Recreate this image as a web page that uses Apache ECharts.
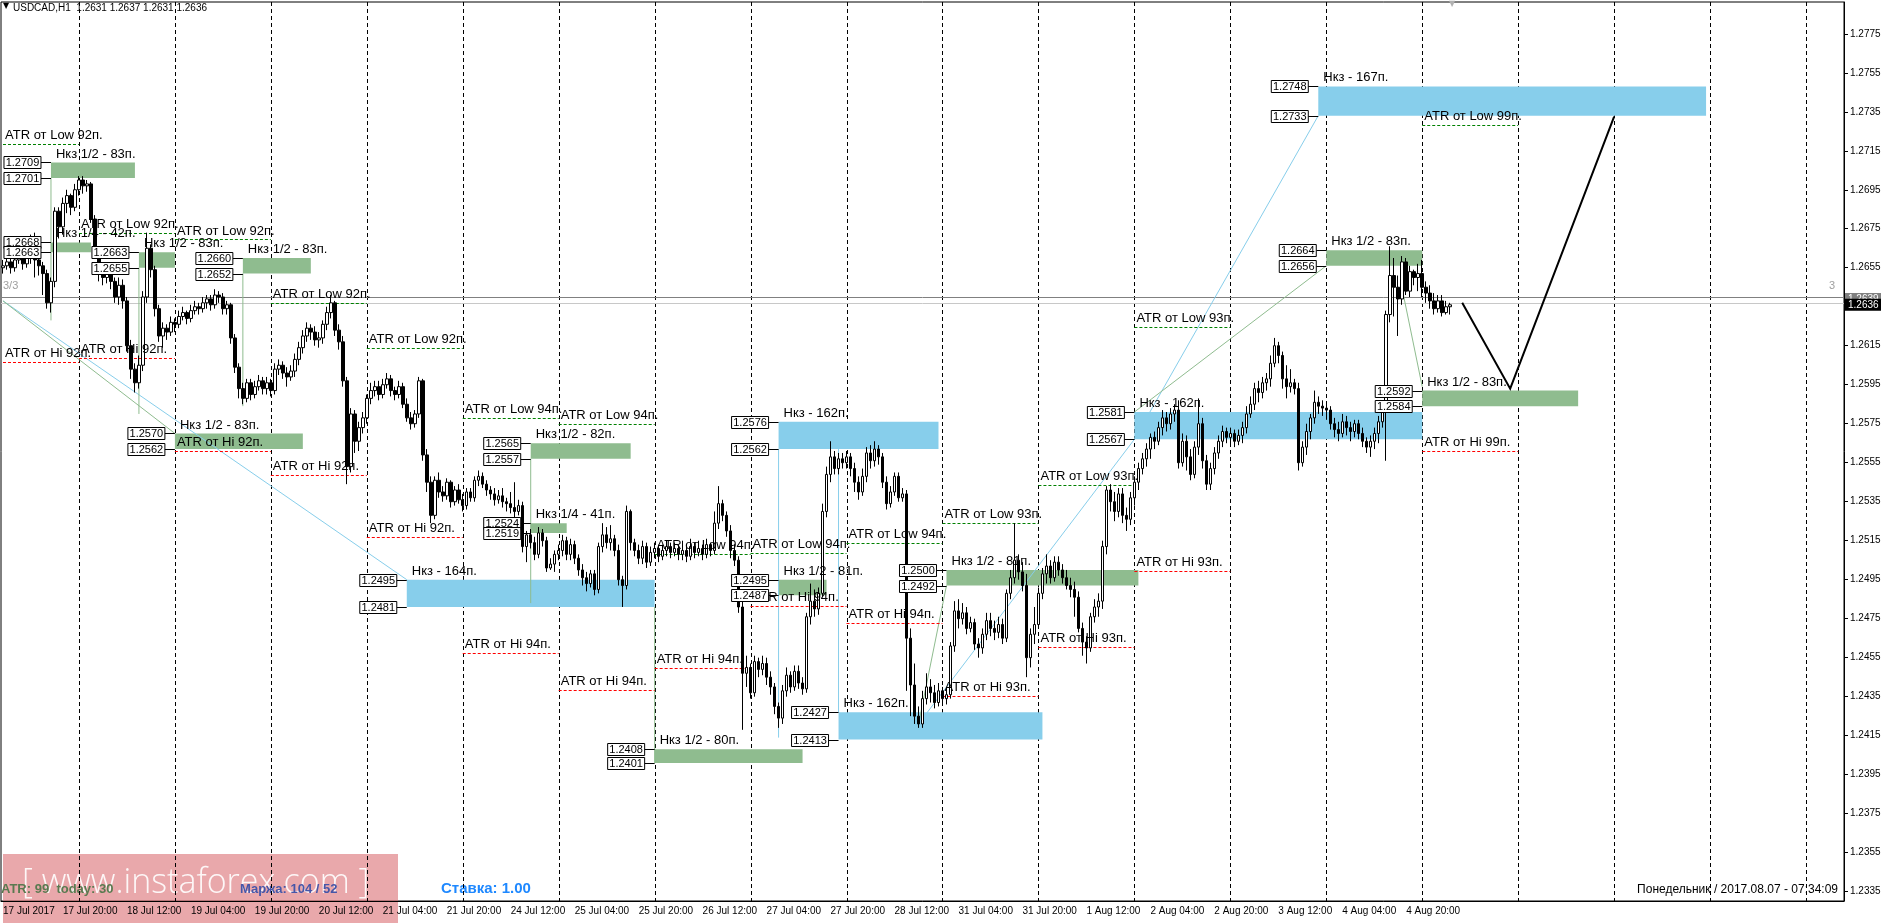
<!DOCTYPE html>
<html>
<head>
<meta charset="utf-8">
<script src="https://cdn.jsdelivr.net/npm/echarts@6/dist/echarts.min.js"></script>
<style>
html,body{margin:0;padding:0;background:#fff;}
#main{width:1885px;height:923px;}
</style>
</head>
<body>
<div id="main"></div>
<script>
// H1 bars, pips above 1.2000 (655 -> 1.2655)
var opens = [
655,656,658,655,659,661,657,660,662,659, 656,652,637,648,684,676,688,692,686,695,
700,697,698,680,662,652,650,652,648,640, 646,638,615,603,596,605,640,665,654,634,
620,624,622,627,626,630,632,629,633,635, 634,637,639,636,641,640,634,636,619,604,
593,588,596,590,594,597,593,596,592,603, 605,601,599,602,608,614,620,624,622,618,
619,626,632,637,623,617,597,553,580,566, 573,578,588,592,594,590,595,598,592,590,
594,585,578,575,580,597,559,545,528,546, 540,538,545,535,541,536,533,540,537,546,
548,544,541,539,536,538,535,534,532,530, 533,512,518,514,508,519,515,501,503,508,
510,515,508,513,506,500,496,493,498,490, 512,518,514,516,510,495,492,530,514,510,
506,512,504,509,511,507,510,512,509,511, 508,510,507,512,509,511,508,513,510,524,
534,528,520,510,505,481,447,450,437,453, 449,452,445,440,430,424,438,446,440,448,
442,439,476,484,480,488,530,549,558,552, 557,555,558,552,545,540,548,560,556,562,
558,545,534,540,548,537,539,465,441,425, 421,434,440,437,432,438,434,436,461,479,
475,478,470,473,462,460,467,474,470,468, 472,465,488,496,505,499,492,455,467,472,
488,498,502,496,504,500,496,492,490,486, 470,463,460,476,481,484,512,541,535,530,
539,528,526,537,545,552,557,562,568,566, 573,578,575,580,582,555,566,558,549,563,
575,556,544,552,560,566,571,568,570,566, 569,573,580,585,593,591,596,598,606,615,
610,598,594,596,593,555,563,571,578,586, 584,583,582,575,572,570,576,573,571,575,
570,566,563,566,570,576,581,631,651,645, 639,658,643,653,650,652,645,642,638,634,
638,632,635
];
var closes = [
656,658,655,659,661,657,660,662,659,656, 652,637,648,684,676,688,692,686,695,700,
697,698,680,662,652,650,652,648,640,646, 638,615,603,596,605,640,665,654,634,620,
624,622,627,626,630,632,629,633,635,634, 637,639,636,641,640,634,636,619,604,593,
588,596,590,594,597,593,596,592,603,605, 601,599,602,608,614,620,624,622,618,619,
626,632,637,623,617,597,553,580,566,573, 578,588,592,594,590,595,598,592,590,594,
585,578,575,580,597,559,545,528,546,540, 538,545,535,541,536,533,540,537,546,548,
544,541,539,536,538,535,534,532,530,533, 512,518,514,508,519,515,501,503,508,510,
515,508,513,506,500,496,493,498,490,512, 518,514,516,510,495,492,530,514,510,506,
512,504,509,511,507,510,512,509,511,508, 510,507,512,509,511,508,513,510,524,534,
528,520,510,505,481,447,450,437,453,449, 452,445,440,430,424,438,446,440,448,442,
439,476,484,480,488,530,549,558,552,557, 555,558,552,545,540,548,560,556,562,558,
545,534,540,548,537,539,465,441,425,421, 434,440,437,432,438,434,436,461,479,475,
478,470,473,462,460,467,474,470,468,472, 465,488,496,505,499,492,455,467,472,488,
498,502,496,504,500,496,492,490,486,470, 463,460,476,481,484,512,541,535,530,539,
528,526,537,545,552,557,562,568,566,573, 578,575,580,582,555,566,558,549,563,575,
556,544,552,560,566,571,568,570,566,569, 573,580,585,593,591,596,598,606,615,610,
598,594,596,593,555,563,571,578,586,584, 583,582,575,572,570,576,573,571,575,570,
566,563,566,570,576,581,631,651,645,639, 658,643,653,650,652,645,642,638,634,638,
632,635,636
];
var highs = [
659,661,660,662,664,663,668,672,673,662, 658,654,650,686,686,691,695,693,698,702,
702,700,699,682,665,656,655,654,650,650, 649,640,618,606,610,643,673,667,656,636,
627,626,630,629,633,635,633,636,638,637, 640,641,641,644,643,642,638,637,621,606,
596,598,598,597,600,599,599,598,606,608, 607,604,605,611,617,623,627,626,625,622,
628,635,641,638,626,620,599,583,582,576, 581,590,596,597,597,598,601,600,594,597,
596,588,581,582,599,598,562,548,548,550, 543,547,546,543,544,539,542,542,548,551,
550,546,543,542,541,542,537,540,545,536, 535,520,521,517,522,521,517,506,510,513,
518,517,516,515,508,503,499,500,500,514, 524,522,523,518,513,497,533,531,516,513,
515,514,512,514,513,513,515,514,514,513, 515,512,516,514,515,513,516,514,530,543,
536,530,523,513,507,484,456,452,456,455, 456,455,448,442,432,441,450,448,451,451,
445,478,493,490,491,534,553,566,561,560, 560,561,560,555,548,552,563,564,566,564,
560,548,543,550,550,542,541,470,452,430, 438,447,444,441,442,440,440,463,484,485,
483,481,476,475,465,470,478,478,474,476, 475,490,500,524,508,504,498,470,481,491,
501,508,505,507,507,503,500,496,494,489, 473,466,478,485,488,515,543,544,540,542,
542,532,540,548,555,560,565,570,571,576, 582,581,583,585,587,570,569,562,566,588,
578,559,555,563,569,574,573,573,572,572, 576,584,589,596,597,599,601,610,619,617,
612,605,603,598,596,566,575,580,592,589, 587,586,584,578,576,580,579,576,577,577,
573,568,569,573,579,584,633,666,660,651, 661,660,656,654,657,659,648,646,642,641,
641,638,637
];
var lows = [
652,654,652,653,657,654,655,657,650,651, 641,634,632,645,670,672,683,682,684,692,
693,694,678,660,648,646,647,644,637,636, 634,612,598,591,593,602,637,650,630,617,
614,618,620,622,624,628,626,627,631,631, 632,634,633,634,637,631,631,616,601,588,
585,586,587,588,592,590,590,589,590,600, 598,594,597,599,605,611,617,618,615,614,
616,623,629,620,613,594,544,550,560,561, 570,575,585,589,587,588,593,589,587,588,
583,576,572,573,578,556,540,524,526,537, 535,536,532,533,534,530,531,535,535,543,
542,538,536,533,534,532,530,529,527,528, 509,504,511,505,506,512,499,500,499,505,
507,505,505,503,497,492,489,491,487,488, 509,511,510,507,492,481,490,510,507,503,
503,501,502,506,504,505,507,506,507,505, 505,504,505,506,507,505,506,507,508,521,
525,517,506,502,478,418,440,434,435,445, 446,441,436,426,419,421,435,437,438,439,
436,437,472,476,477,486,527,545,549,549, 552,552,548,540,536,538,545,552,553,554,
542,531,532,538,535,535,438,425,421,419, 419,431,432,429,430,431,431,434,458,470,
472,467,468,459,455,457,464,466,464,465, 462,463,485,493,495,489,445,450,462,470,
485,493,493,494,497,493,490,486,476,468, 456,452,458,473,476,480,508,530,525,527,
524,520,523,533,541,549,553,557,562,564, 569,571,572,576,552,553,551,546,547,559,
552,541,541,549,557,563,565,565,563,564, 565,570,578,582,586,588,592,594,604,606,
593,588,591,590,551,553,559,567,575,580, 579,577,572,568,566,568,569,566,568,567,
563,560,558,562,565,573,556,627,630,620, 636,641,640,646,643,640,637,634,631,632,
630,631,631
];

var yTicks = [1.2335,1.2355,1.2375,1.2395,1.2415,1.2435,1.2455,1.2475,1.2495,1.2515,
  1.2535,1.2555,1.2575,1.2595,1.2615,1.2635,1.2655,1.2675,1.2695,1.2715,1.2735,1.2755,1.2775];

// zones: [fromBar, toBar, top, bottom, colour, label]
var zones = [
  [12,33,1.2709,1.2701,'g','Нкз 1/2 - 83п.'],
  [12,22,1.2668,1.2663,'g','Нкз 1/4 - 42п.'],
  [34,43,1.2663,1.2655,'g','Нкз 1/2 - 83п.'],
  [60,77,1.2660,1.2652,'g','Нкз 1/2 - 83п.'],
  [43,75,1.2570,1.2562,'g','Нкз 1/2 - 83п.'],
  [132,157,1.2565,1.2557,'g','Нкз 1/2 - 82п.'],
  [132,141,1.2524,1.2519,'g','Нкз 1/4 - 41п.'],
  [101,163,1.2495,1.2481,'b','Нкз - 164п.'],
  [194,234,1.2576,1.2562,'b','Нкз - 162п.'],
  [194,206,1.2495,1.2487,'g','Нкз 1/2 - 81п.'],
  [163,200,1.2408,1.2401,'g','Нкз 1/2 - 80п.'],
  [209,260,1.2427,1.2413,'b','Нкз - 162п.'],
  [236,284,1.2500,1.2492,'g','Нкз 1/2 - 81п.'],
  [283,355,1.2581,1.2567,'b','Нкз - 162п.'],
  [331,355,1.2664,1.2656,'g','Нкз 1/2 - 83п.'],
  [355,394,1.2592,1.2584,'g','Нкз 1/2 - 83п.'],
  [329,426,1.2748,1.2733,'b','Нкз - 167п.']
];

// ATR levels: [fromBar, toBar, price, 'L'|'H', text]
var atrLevels = [
  [0,19,1.27185,'L','ATR от Low 92п.'],[0,19,1.26067,'H','ATR от Hi 92п.'],
  [19,43,1.26727,'L','ATR от Low 92п.'],[19,43,1.26086,'H','ATR от Hi 92п.'],
  [43,67,1.26695,'L','ATR от Low 92п.'],[43,67,1.2561,'H','ATR от Hi 92п.'],
  [67,91,1.26368,'L','ATR от Low 92п.'],[67,91,1.25487,'H','ATR от Hi 92п.'],
  [91,115,1.26137,'L','ATR от Low 92п.'],[91,115,1.2517,'H','ATR от Hi 92п.'],
  [115,139,1.25778,'L','ATR от Low 94п.'],[115,139,1.24575,'H','ATR от Hi 94п.'],
  [139,163,1.25747,'L','ATR от Low 94п.'],[139,163,1.24386,'H','ATR от Hi 94п.'],
  [163,187,1.2508,'L','ATR от Low 94п.'],[163,187,1.24498,'H','ATR от Hi 94п.'],
  [187,211,1.25087,'L','ATR от Low 94п.'],[187,211,1.24814,'H','ATR от Hi 94п.'],
  [211,235,1.25138,'L','ATR от Low 94п.'],[211,235,1.24729,'H','ATR от Hi 94п.'],
  [235,259,1.25243,'L','ATR от Low 93п.'],[235,259,1.24353,'H','ATR от Hi 93п.'],
  [259,283,1.25435,'L','ATR от Low 93п.'],[259,283,1.24604,'H','ATR от Hi 93п.'],
  [283,307,1.26245,'L','ATR от Low 93п.'],[283,307,1.24996,'H','ATR от Hi 93п.'],
  [355,379,1.27284,'L','ATR от Low 99п.'],[355,379,1.2561,'H','ATR от Hi 99п.']
];

// thin trend / helper lines: [bar0, price0, bar1, price1, colour]
var helperLines = [
  [0,1.2638,101,1.2495,'#87ceeb'],
  [0,1.2638,43,1.2570,'#8fbc8f'],
  [12,1.2701,12,1.2628,'#8fbc8f'],
  [34,1.2655,34,1.2580,'#8fbc8f'],
  [60,1.2652,60,1.2584,'#8fbc8f'],
  [132,1.2557,132,1.2483,'#8fbc8f'],
  [163,1.2481,163,1.2401,'#8fbc8f'],
  [194,1.2562,194,1.2414,'#87ceeb'],
  [209,1.2427,209,1.2562,'#87ceeb'],
  [236,1.2492,229,1.2421,'#8fbc8f'],
  [229,1.2421,283,1.2567,'#87ceeb'],
  [283,1.2567,329,1.2733,'#87ceeb'],
  [283,1.2581,331,1.2656,'#8fbc8f'],
  [350,1.2644,355,1.2594,'#8fbc8f']
];

// forecast path
var forecastBars = [365,377,403];
var forecastPrices = [1.2637,1.2593,1.27325];

var priceLines = [[1.26398,'#808080'],[1.26368,'#c8c8c8']];

// hourly categories, weekends skipped
var MON = ['Jan','Feb','Mar','Apr','May','Jun','Jul','Aug','Sep','Oct','Nov','Dec'];
var cats = [], hours = [];
var t = Date.UTC(2017,6,17,5);
while (cats.length < 461) {
  var d = new Date(t);
  var wd = d.getUTCDay();
  if (wd !== 0 && wd !== 6) {
    var hh = d.getUTCHours();
    cats.push(d.getUTCDate() + ' ' + MON[d.getUTCMonth()] + ' ' + (hh < 10 ? '0' : '') + hh + ':00');
    hours.push(hh);
  }
  t += 3600000;
}
var nData = closes.length;
var dayStarts = [];
for (var i = 0; i < hours.length; i++) if (hours[i] === 0) dayStarts.push(i);

function px(v) { return 1.2 + v / 10000; }
var candles = [];
for (var k = 0; k < nData; k++) candles.push([px(opens[k]), px(closes[k]), px(lows[k]), px(highs[k])]);

function showLabel(idx) { return idx < nData && (idx === 0 || idx % 16 === 15); }

var FONT = '13px "Liberation Sans", Arial, sans-serif';

function bgRender(params, api) {
  var ch = [];
  var top = api.coord([0, 1.27913])[1], bot = api.coord([0, 1.23302])[1];
  var x0 = api.coord([0, 1.25])[0] - 2, x1 = api.coord([460, 1.25])[0] + 2;
  dayStarts.forEach(function (i) {
    var x = Math.round(api.coord([i, 1.25])[0]) + 0.5;
    ch.push({type: 'line', shape: {x1: x, y1: top, x2: x, y2: bot},
      style: {stroke: '#000', lineWidth: 1, lineDash: [4, 3]}});
  });
  priceLines.forEach(function (p) {
    var y = Math.round(api.coord([0, p[0]])[1]) + 0.5;
    ch.push({type: 'line', shape: {x1: x0, y1: y, x2: x1, y2: y}, style: {stroke: p[1], lineWidth: 1}});
  });
  zones.forEach(function (z) {
    var a = api.coord([z[0], z[2]]), b = api.coord([z[1], z[3]]);
    ch.push({type: 'rect', shape: {x: a[0], y: a[1], width: b[0] - a[0], height: b[1] - a[1]},
      style: {fill: z[4] === 'g' ? '#8fbc8f' : '#87ceeb'}});
  });
  helperLines.forEach(function (l) {
    var a = api.coord([l[0], l[1]]), b = api.coord([l[2], l[3]]);
    ch.push({type: 'line', shape: {x1: a[0], y1: a[1], x2: b[0], y2: b[1]}, style: {stroke: l[4], lineWidth: 1}});
  });
  atrLevels.forEach(function (l) {
    var a = api.coord([l[0], l[2]]), b = api.coord([l[1], l[2]]);
    var y = Math.round(a[1]) + 0.5;
    ch.push({type: 'line', shape: {x1: a[0], y1: y, x2: b[0], y2: y},
      style: {stroke: l[3] === 'L' ? '#008000' : '#ff0000', lineWidth: 1, lineDash: [3, 2]}});
  });
  return {type: 'group', children: ch};
}

function fgRender(params, api) {
  var ch = [];
  atrLevels.forEach(function (l) {
    var a = api.coord([l[0], l[2]]);
    ch.push({type: 'text', x: a[0] + 2, y: a[1] - 2,
      style: {text: l[4], font: FONT, fill: '#000', textAlign: 'left', textVerticalAlign: 'bottom'}});
  });
  zones.forEach(function (z) {
    var a = api.coord([z[0], z[2]]), b = api.coord([z[0], z[3]]);
    ch.push({type: 'text', x: a[0] + 5, y: a[1] - 2,
      style: {text: z[5], font: FONT, fill: '#000', textAlign: 'left', textVerticalAlign: 'bottom'}});
    [[z[2], a[1]], [z[3], b[1]]].forEach(function (p) {
      var y = Math.round(p[1]) + 0.5, right = a[0] - 10;
      ch.push({type: 'line', shape: {x1: right, y1: y, x2: a[0], y2: y}, style: {stroke: '#000', lineWidth: 1}});
      ch.push({type: 'rect', shape: {x: right - 37, y: y - 6, width: 37, height: 12},
        style: {fill: '#fff', stroke: '#000', lineWidth: 1}});
      ch.push({type: 'text', x: right - 18.5, y: y,
        style: {text: p[0].toFixed(4), font: '11px "Liberation Sans", Arial, sans-serif', fill: '#000',
          textAlign: 'center', textVerticalAlign: 'middle'}});
    });
  });
  var pts = forecastBars.map(function (b, i) { return api.coord([b, forecastPrices[i]]); });
  ch.push({type: 'polyline', shape: {points: pts}, style: {stroke: '#000', lineWidth: 2, fill: null}});
  // price tags on the axis
  var gx = api.coord([460, 1.25])[0] + 3;
  [[1.2639, '#808080'], [1.2636, '#000']].forEach(function (p) {
    var y = api.coord([0, p[0]])[1];
    ch.push({type: 'rect', shape: {x: gx, y: y - 6, width: 36, height: 12}, style: {fill: p[1]}});
    ch.push({type: 'text', x: gx + 3, y: y,
      style: {text: p[0].toFixed(4), font: '10px "Liberation Sans", Arial, sans-serif', fill: '#fff',
        textVerticalAlign: 'middle'}});
  });
  return {type: 'group', children: ch};
}

var myChart = echarts.init(document.getElementById('main'));
var option = {
  animation: false,
  backgroundColor: '#fff',
  grid: {left: 0, right: 41, top: 2, bottom: 22, show: true, borderColor: '#000', borderWidth: 1},
  xAxis: {
    type: 'category', data: cats, boundaryGap: true,
    axisLine: {lineStyle: {color: '#000'}},
    axisTick: {interval: function (i) { return showLabel(i); }, alignWithLabel: true, length: 4, lineStyle: {color: '#000'}},
    axisLabel: {
      interval: function (i) { return showLabel(i); },
      formatter: function (v, i) { return i === 0 ? '17 Jul 2017' : v; },
      align: 'left', margin: 5, color: '#000', fontSize: 10,
      fontFamily: '"Liberation Sans", Arial, sans-serif'
    },
    splitLine: {show: false}
  },
  yAxis: {
    type: 'value', position: 'right', min: 1.23302, max: 1.27913, scale: true,
    axisLine: {show: true, lineStyle: {color: '#000'}},
    axisTick: {show: true, customValues: yTicks, length: 4, lineStyle: {color: '#000'}},
    axisLabel: {customValues: yTicks, formatter: function (v) { return v.toFixed(4); },
      color: '#000', fontSize: 10, margin: 6, fontFamily: '"Liberation Sans", Arial, sans-serif'},
    splitLine: {show: false}
  },
  series: [
    {type: 'custom', renderItem: bgRender, data: [[0, 1.25]], z: 1, silent: true, clip: false},
    {type: 'candlestick', data: candles, barWidth: 3, z: 2,
      itemStyle: {color: '#ffffff', color0: '#000000', borderColor: '#000000', borderColor0: '#000000', borderWidth: 1}},
    {type: 'custom', renderItem: fgRender, data: [[0, 1.25]], z: 3, silent: true, clip: false}
  ],
  graphic: [
    {type: 'text', left: 3, top: 2, style: {text: '▼', font: '8px "DejaVu Sans"', fill: '#000'}},
    {type: 'text', left: 13, top: 3, style: {text: 'USDCAD,H1  1.2631 1.2637 1.2631 1.2636', font: '10px "Liberation Sans", Arial', fill: '#000'}},
    {type: 'text', left: 1449, top: 0, style: {text: '▼', font: '8px "DejaVu Sans"', fill: '#b0b0b0'}},
    {type: 'text', left: 3, top: 280, style: {text: '3/3', font: '11px "Liberation Sans", Arial', fill: '#a0a0a0'}},
    {type: 'text', left: 1829, top: 280, style: {text: '3', font: '11px "Liberation Sans", Arial', fill: '#a0a0a0'}},
    {type: 'text', right: 47, top: 884, style: {text: 'Понедельник / 2017.08.07 - 07:34:09', font: '12px "Liberation Sans", Arial', fill: '#000'}},
    {type: 'rect', left: 3, top: 854, shape: {width: 395, height: 69}, style: {fill: 'rgba(218,110,115,0.6)'}},
    {type: 'text', left: 22, top: 866, style: {text: '[ www.instaforex.com ]', font: '300 34px "Open Sans", "DejaVu Sans"', fill: 'rgba(255,255,255,0.9)'}},
    {type: 'text', left: 1, top: 883, style: {text: 'ATR: 99  today: 30', font: 'bold 13px "Liberation Sans", Arial', fill: '#5a7a50'}},
    {type: 'text', left: 240, top: 883, style: {text: 'Маржа: 104 / 52', font: 'bold 13px "Liberation Sans", Arial', fill: '#4656a8'}},
    {type: 'text', left: 441, top: 881, style: {text: 'Ставка: 1.00', font: 'bold 15px "Liberation Sans", Arial', fill: '#1e88ff'}}
  ]
};
myChart.setOption(option);
</script>
</body>
</html>
